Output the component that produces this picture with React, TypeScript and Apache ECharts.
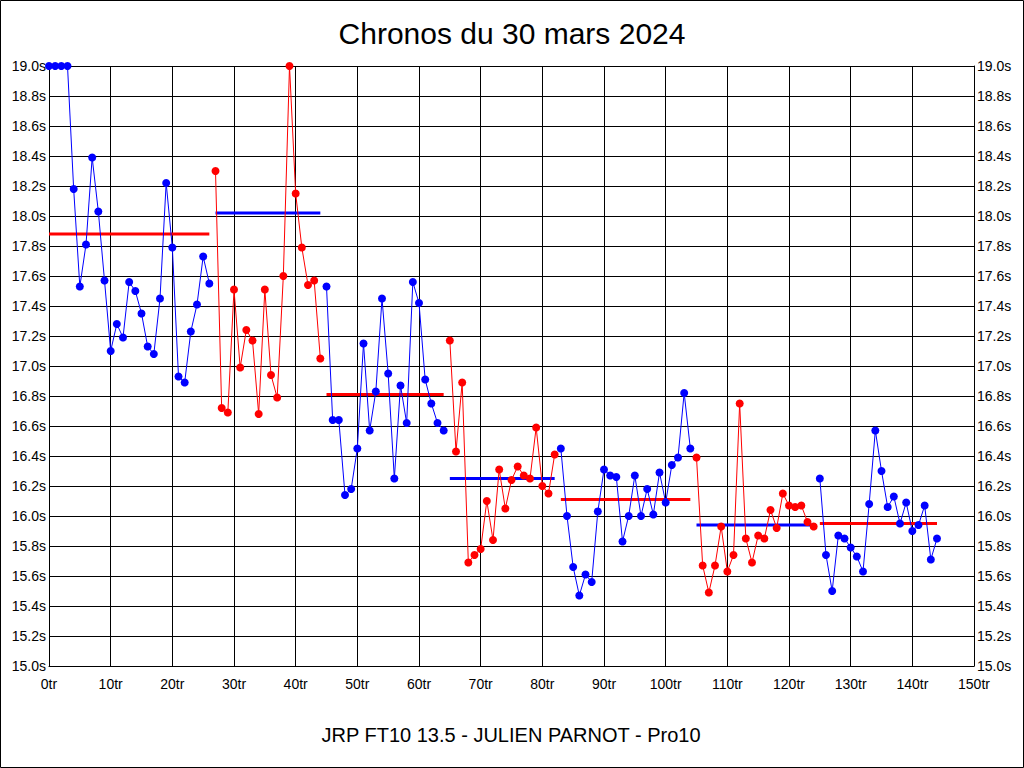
import React, { useEffect, useRef } from "react";
import * as echarts from "echarts";

const TITLE = "Chronos du 30 mars 2024";
const SUBTITLE = "JRP FT10 13.5 - JULIEN PARNOT - Pro10";

// Lap times per stint (first lap index of each stint in stintStarts)
const stintStarts = [0, 27, 45, 65, 83, 105, 125];
const stint1 = [19.0, 19.0, 19.0, 19.0, 18.18, 17.53, 17.81, 18.39, 18.03, 17.57, 17.1, 17.28, 17.19, 17.56, 17.5, 17.35, 17.13, 17.08, 17.45, 18.22, 17.79, 16.93, 16.89, 17.23, 17.41, 17.73, 17.55];
const stint2 = [18.3, 16.72, 16.69, 17.51, 16.99, 17.24, 17.17, 16.68, 17.51, 16.94, 16.79, 17.6, 19.0, 18.15, 17.79, 17.54, 17.57, 17.05];
const stint3 = [17.53, 16.64, 16.64, 16.14, 16.18, 16.45, 17.15, 16.57, 16.83, 17.45, 16.95, 16.25, 16.87, 16.62, 17.56, 17.42, 16.91, 16.75, 16.62, 16.57];
const stint4 = [17.17, 16.43, 16.89, 15.69, 15.74, 15.78, 16.1, 15.84, 16.31, 16.05, 16.24, 16.33, 16.27, 16.25, 16.59, 16.2, 16.15, 16.41];
const stint5 = [16.45, 16.0, 15.66, 15.47, 15.61, 15.56, 16.03, 16.31, 16.27, 16.26, 15.83, 16.0, 16.27, 16.0, 16.18, 16.01, 16.29, 16.09, 16.34, 16.39, 16.82, 16.45];
const stint6 = [16.39, 15.67, 15.49, 15.67, 15.93, 15.63, 15.74, 16.75, 15.85, 15.69, 15.87, 15.85, 16.04, 15.92, 16.15, 16.07, 16.06, 16.07, 15.96, 15.93];
const stint7 = [16.25, 15.74, 15.5, 15.87, 15.85, 15.79, 15.73, 15.63, 16.08, 16.57, 16.3, 16.06, 16.13, 15.95, 16.09, 15.9, 15.94, 16.07, 15.71, 15.85];
const stints = [stint1, stint2, stint3, stint4, stint5, stint6, stint7];
const stintAverages = [17.88, 18.02, 16.81, 16.25, 16.11, 15.94, 15.95];
const stintColors = ["#0000ff", "#ff0000", "#0000ff", "#ff0000", "#0000ff", "#ff0000", "#0000ff"];
const averageColors = ["#ff0000", "#0000ff", "#ff0000", "#0000ff", "#ff0000", "#0000ff", "#ff0000"];

const X_MIN = 0;
const X_MAX = 150;
const X_STEP = 10;
const Y_MIN = 15.0;
const Y_MAX = 19.0;
const Y_STEP = 0.2;

const FONT = "'Liberation Sans', Arial, sans-serif";

export default function App() {
  const ref = useRef<HTMLDivElement>(null);

  useEffect(() => {
    if (!ref.current) return;
    const chart = echarts.init(ref.current, undefined, { renderer: "svg" });

    const series: any[] = [];
    stints.forEach((vals, s) => {
      const start = stintStarts[s];
      const end = start + vals.length - 1;
      series.push({
        type: "line",
        data: [
          [start, stintAverages[s]],
          [end, stintAverages[s]],
        ],
        yAxisIndex: 0,
        showSymbol: false,
        symbol: "none",
        lineStyle: { color: averageColors[s], width: 3 },
        z: 2,
        silent: true,
        clip: false,
      });
      series.push({
        type: "line",
        data: vals.map((v, i) => [start + i, v]),
        yAxisIndex: 0,
        symbol: "circle",
        symbolSize: 8,
        showSymbol: true,
        itemStyle: { color: stintColors[s] },
        lineStyle: { color: stintColors[s], width: 1 },
        z: 3,
        clip: false,
      });
    });

    const yLabel = (v: number) => v.toFixed(1) + "s";

    chart.setOption({
      animation: false,
      backgroundColor: "#ffffff",
      textStyle: { fontFamily: FONT, color: "#000" },
      grid: { left: 49, right: 50, top: 66, bottom: 102, containLabel: false },
      xAxis: {
        type: "value",
        min: X_MIN,
        max: X_MAX,
        interval: X_STEP,
        axisLine: { show: true, lineStyle: { color: "#000", width: 1 } },
        axisTick: { show: false },
        splitLine: { show: true, lineStyle: { color: "#000", width: 1 } },
        axisLabel: {
          formatter: (v: number) => v + "tr",
          color: "#000",
          fontSize: 14,
          fontFamily: FONT,
          margin: 11,
        },
      },
      yAxis: [
        {
          type: "value",
          position: "left",
          min: Y_MIN,
          max: Y_MAX,
          interval: Y_STEP,
          axisLine: { show: true, lineStyle: { color: "#000", width: 1 } },
          axisTick: { show: false },
          splitLine: { show: true, lineStyle: { color: "#000", width: 1 } },
          axisLabel: { formatter: yLabel, color: "#000", fontSize: 14, fontFamily: FONT, margin: 3 },
        },
        {
          type: "value",
          position: "right",
          min: Y_MIN,
          max: Y_MAX,
          interval: Y_STEP,
          axisLine: { show: true, lineStyle: { color: "#000", width: 1 } },
          axisTick: { show: false },
          splitLine: { show: false },
          axisLabel: { formatter: yLabel, color: "#000", fontSize: 14, fontFamily: FONT, margin: 3 },
        },
      ],
      graphic: [
        {
          type: "rect",
          silent: true,
          shape: { x: 0.5, y: 0.5, width: 1023, height: 767 },
          style: { fill: "none", stroke: "#000", lineWidth: 1 },
        },
        {
          type: "text",
          x: 512,
          y: 33,
          style: {
            text: TITLE,
            fontSize: 30,
            fontFamily: FONT,
            fill: "#000",
            align: "center",
            verticalAlign: "middle",
          },
        },
        {
          type: "text",
          x: 511,
          y: 735,
          style: {
            text: SUBTITLE,
            fontSize: 20,
            fontFamily: FONT,
            fill: "#000",
            align: "center",
            verticalAlign: "middle",
          },
        },
      ],
      series,
    });

    return () => chart.dispose();
  }, []);

  return (
    <div
      ref={ref}
      style={{ position: "fixed", left: 0, top: 0, width: 1024, height: 768, background: "#fff" }}
    />
  );
}
